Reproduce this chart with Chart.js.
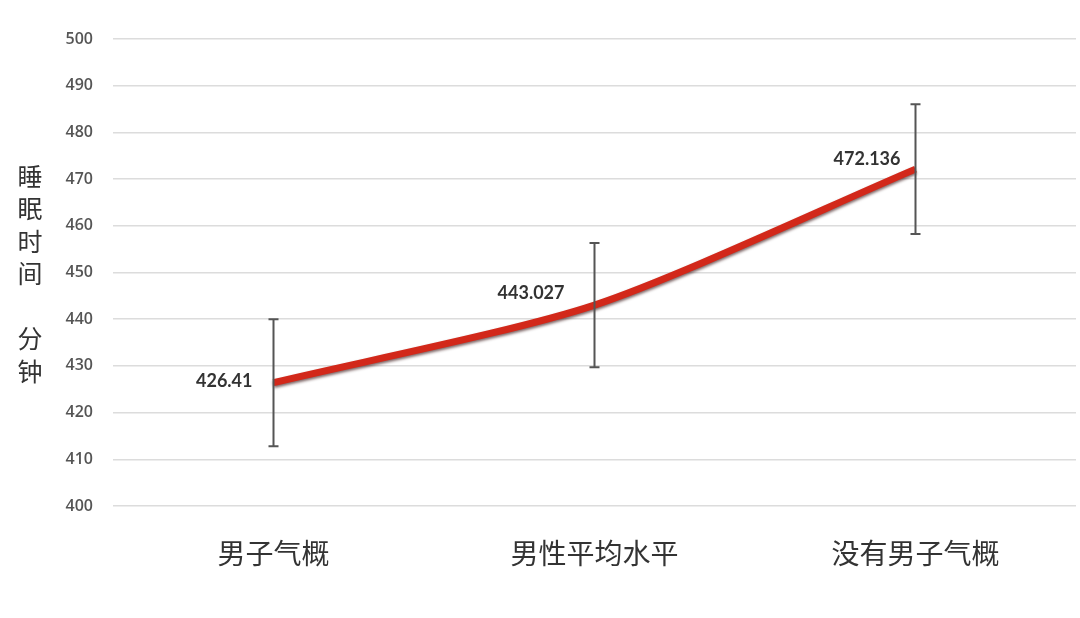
<!DOCTYPE html>
<html>
<head>
<meta charset="utf-8">
<script src="https://cdn.jsdelivr.net/npm/chart.js@4"></script>
<style>
  html, body { margin: 0; padding: 0; background: #fff; }
  #wrap { width: 1080px; height: 618px; }
</style>
</head>
<body>
<div id="wrap"><canvas id="sleepChart"></canvas></div>
<script>
var categories = ['男子气概', '男性平均水平', '没有男子气概'];
var sleepMinutes = [426.41, 443.027, 472.136];
var errorSize = [13.6, 13.3, 13.9];
var yTicks = [400, 410, 420, 430, 440, 450, 460, 470, 480, 490, 500];
var yTitle = ['睡', '眠', '时', '间', '', '分', '钟'];

// error bars, drawn from the y scale
var errorBars = {
    id: 'errorBars',
    afterDatasetsDraw: function (chart) {
        var ctx = chart.ctx;
        var meta = chart.getDatasetMeta(0);
        var y = chart.scales.y;
        ctx.save();
        ctx.strokeStyle = '#555';
        ctx.lineWidth = 2;
        meta.data.forEach(function (pt, i) {
            var top = y.getPixelForValue(sleepMinutes[i] + errorSize[i]);
            var bot = y.getPixelForValue(sleepMinutes[i] - errorSize[i]);
            ctx.beginPath();
            ctx.moveTo(pt.x, top); ctx.lineTo(pt.x, bot);
            ctx.moveTo(pt.x - 5, top); ctx.lineTo(pt.x + 5, top);
            ctx.moveTo(pt.x - 5, bot); ctx.lineTo(pt.x + 5, bot);
            ctx.stroke();
        });
        ctx.restore();
    }
};

// value labels to the upper left of each point
var valueLabels = {
    id: 'valueLabels',
    afterDatasetsDraw: function (chart, args, opts) {
        var ctx = chart.ctx;
        var meta = chart.getDatasetMeta(0);
        ctx.save();
        ctx.font = 'bold 18px Lato, "Liberation Sans", sans-serif';
        ctx.fillStyle = '#333';
        ctx.textAlign = 'right';
        ctx.textBaseline = 'middle';
        meta.data.forEach(function (pt, i) {
            var off = opts.offsets[i];
            ctx.fillText(String(sleepMinutes[i]), pt.x + off[0], pt.y + off[1]);
        });
        ctx.restore();
    }
};

// shadow under the red line
var lineShadow = {
    id: 'lineShadow',
    beforeDatasetDraw: function (chart) {
        var ctx = chart.ctx;
        ctx.save();
        ctx.shadowColor = 'rgba(40,0,0,0.6)';
        ctx.shadowBlur = 3;
        ctx.shadowOffsetY = 2;
    },
    afterDatasetDraw: function (chart) {
        chart.ctx.restore();
    }
};

// vertical y-axis title
var verticalTitle = {
    id: 'verticalTitle',
    afterDraw: function (chart) {
        var ctx = chart.ctx;
        ctx.save();
        ctx.font = '25px "Noto Sans CJK SC", sans-serif';
        ctx.fillStyle = '#333';
        ctx.textAlign = 'center';
        ctx.textBaseline = 'middle';
        yTitle.forEach(function (ch, i) {
            ctx.fillText(ch, 30, 176 + i * 32.5);
        });
        ctx.restore();
    }
};

var ctx = document.getElementById('sleepChart').getContext('2d');
window.sleepChart = new Chart(ctx, {
    type: 'line',
    data: {
        labels: categories,
        datasets: [{
            data: sleepMinutes,
            borderColor: '#d2281a',
            borderWidth: 7,
            tension: 0.25,
            pointRadius: 0,
            fill: false
        }]
    },
    options: {
        responsive: true,
        maintainAspectRatio: false,
        animation: false,
        layout: { padding: { top: 39, right: 4, left: 0, bottom: 0 } },
        plugins: {
            legend: { display: false },
            tooltip: { enabled: false },
            valueLabels: { offsets: [[-21, -1], [-30, -12], [-15, -10]] }
        },
        scales: {
            x: {
                offset: true,
                grid: { display: false },
                border: { display: false },
                ticks: {
                    padding: 23,
                    color: '#333',
                    font: { family: '"Noto Sans CJK SC", sans-serif', size: 28 }
                },
                afterFit: function (scale) { scale.height = 112; }
            },
            y: {
                min: 400,
                max: 500,
                afterBuildTicks: function (scale) {
                    scale.ticks = yTicks.map(function (v) { return { value: v }; });
                },
                grid: { color: '#dcdcdc', lineWidth: 1.5, drawTicks: false },
                border: { display: false },
                ticks: {
                    padding: 20,
                    color: '#555',
                    font: { family: '"Open Sans", sans-serif', size: 16, weight: '600' }
                },
                afterFit: function (scale) { scale.width = 113; }
            }
        }
    },
    plugins: [lineShadow, errorBars, valueLabels, verticalTitle]
});
</script>
</body>
</html>
